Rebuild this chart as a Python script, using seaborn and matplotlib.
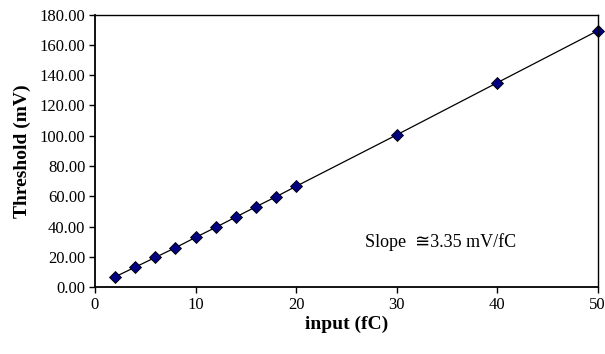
import matplotlib
matplotlib.use("Agg")
import matplotlib.pyplot as plt
import seaborn as sns
import pandas as pd

input_fc = [2, 4, 6, 8, 10, 12, 14, 16, 18, 20, 30, 40, 50]
threshold_mv = [7.0, 13.4, 19.8, 26.2, 33.0, 39.6, 46.4, 53.2, 59.8, 66.7, 100.6, 135.0, 169.3]
y_ticks = [0, 20, 40, 60, 80, 100, 120, 140, 160, 180]
x_ticks = [0, 10, 20, 30, 40, 50]

sns.set_style("white")
plt.rcParams['font.family'] = ['Liberation Serif', 'DejaVu Serif']
plt.rcParams['text.color'] = 'black'
plt.rcParams['axes.labelcolor'] = 'black'
plt.rcParams['xtick.color'] = 'black'
plt.rcParams['ytick.color'] = 'black'

df = pd.DataFrame({"x": input_fc, "y": threshold_mv})
fig = plt.figure(figsize=(6.05, 3.54), dpi=100)
ax = fig.add_axes([0.157, 0.188, 0.831, 0.771])
sns.lineplot(data=df, x="x", y="y", ax=ax, color="black", linewidth=0.9,
             marker="D", markersize=6.5, markerfacecolor="#000080",
             markeredgecolor="black", markeredgewidth=0.6, clip_on=False)
ax.set_xlim(0, 50)
ax.set_ylim(0, 180)
ax.set_xticks(x_ticks)
ax.set_xticklabels([str(t) for t in x_ticks], fontsize=12)
ax.set_yticks(y_ticks)
ax.set_yticklabels([f"{t:.2f}" for t in y_ticks], fontsize=12)
ax.tick_params(direction="out", length=4, width=1, color="black", left=True, bottom=True, pad=3)
ax.set_xlabel("input (fC)", fontsize=14, fontweight="bold", labelpad=2)
ax.set_ylabel("Threshold (mV)", fontsize=14, fontweight="bold", labelpad=6)
for s in ax.spines.values():
    s.set_color("black")
    s.set_linewidth(1.0)
ax.spines['left'].set_linewidth(1.3)
ax.spines['bottom'].set_linewidth(1.3)
ax.text(26.9, 30, "Slope  \u22453.35 mV/fC", fontsize=13, ha="left", va="center",
        family=['Liberation Serif', 'DejaVu Serif', 'DejaVu Sans'])
fig.savefig("out.png", dpi=100)
